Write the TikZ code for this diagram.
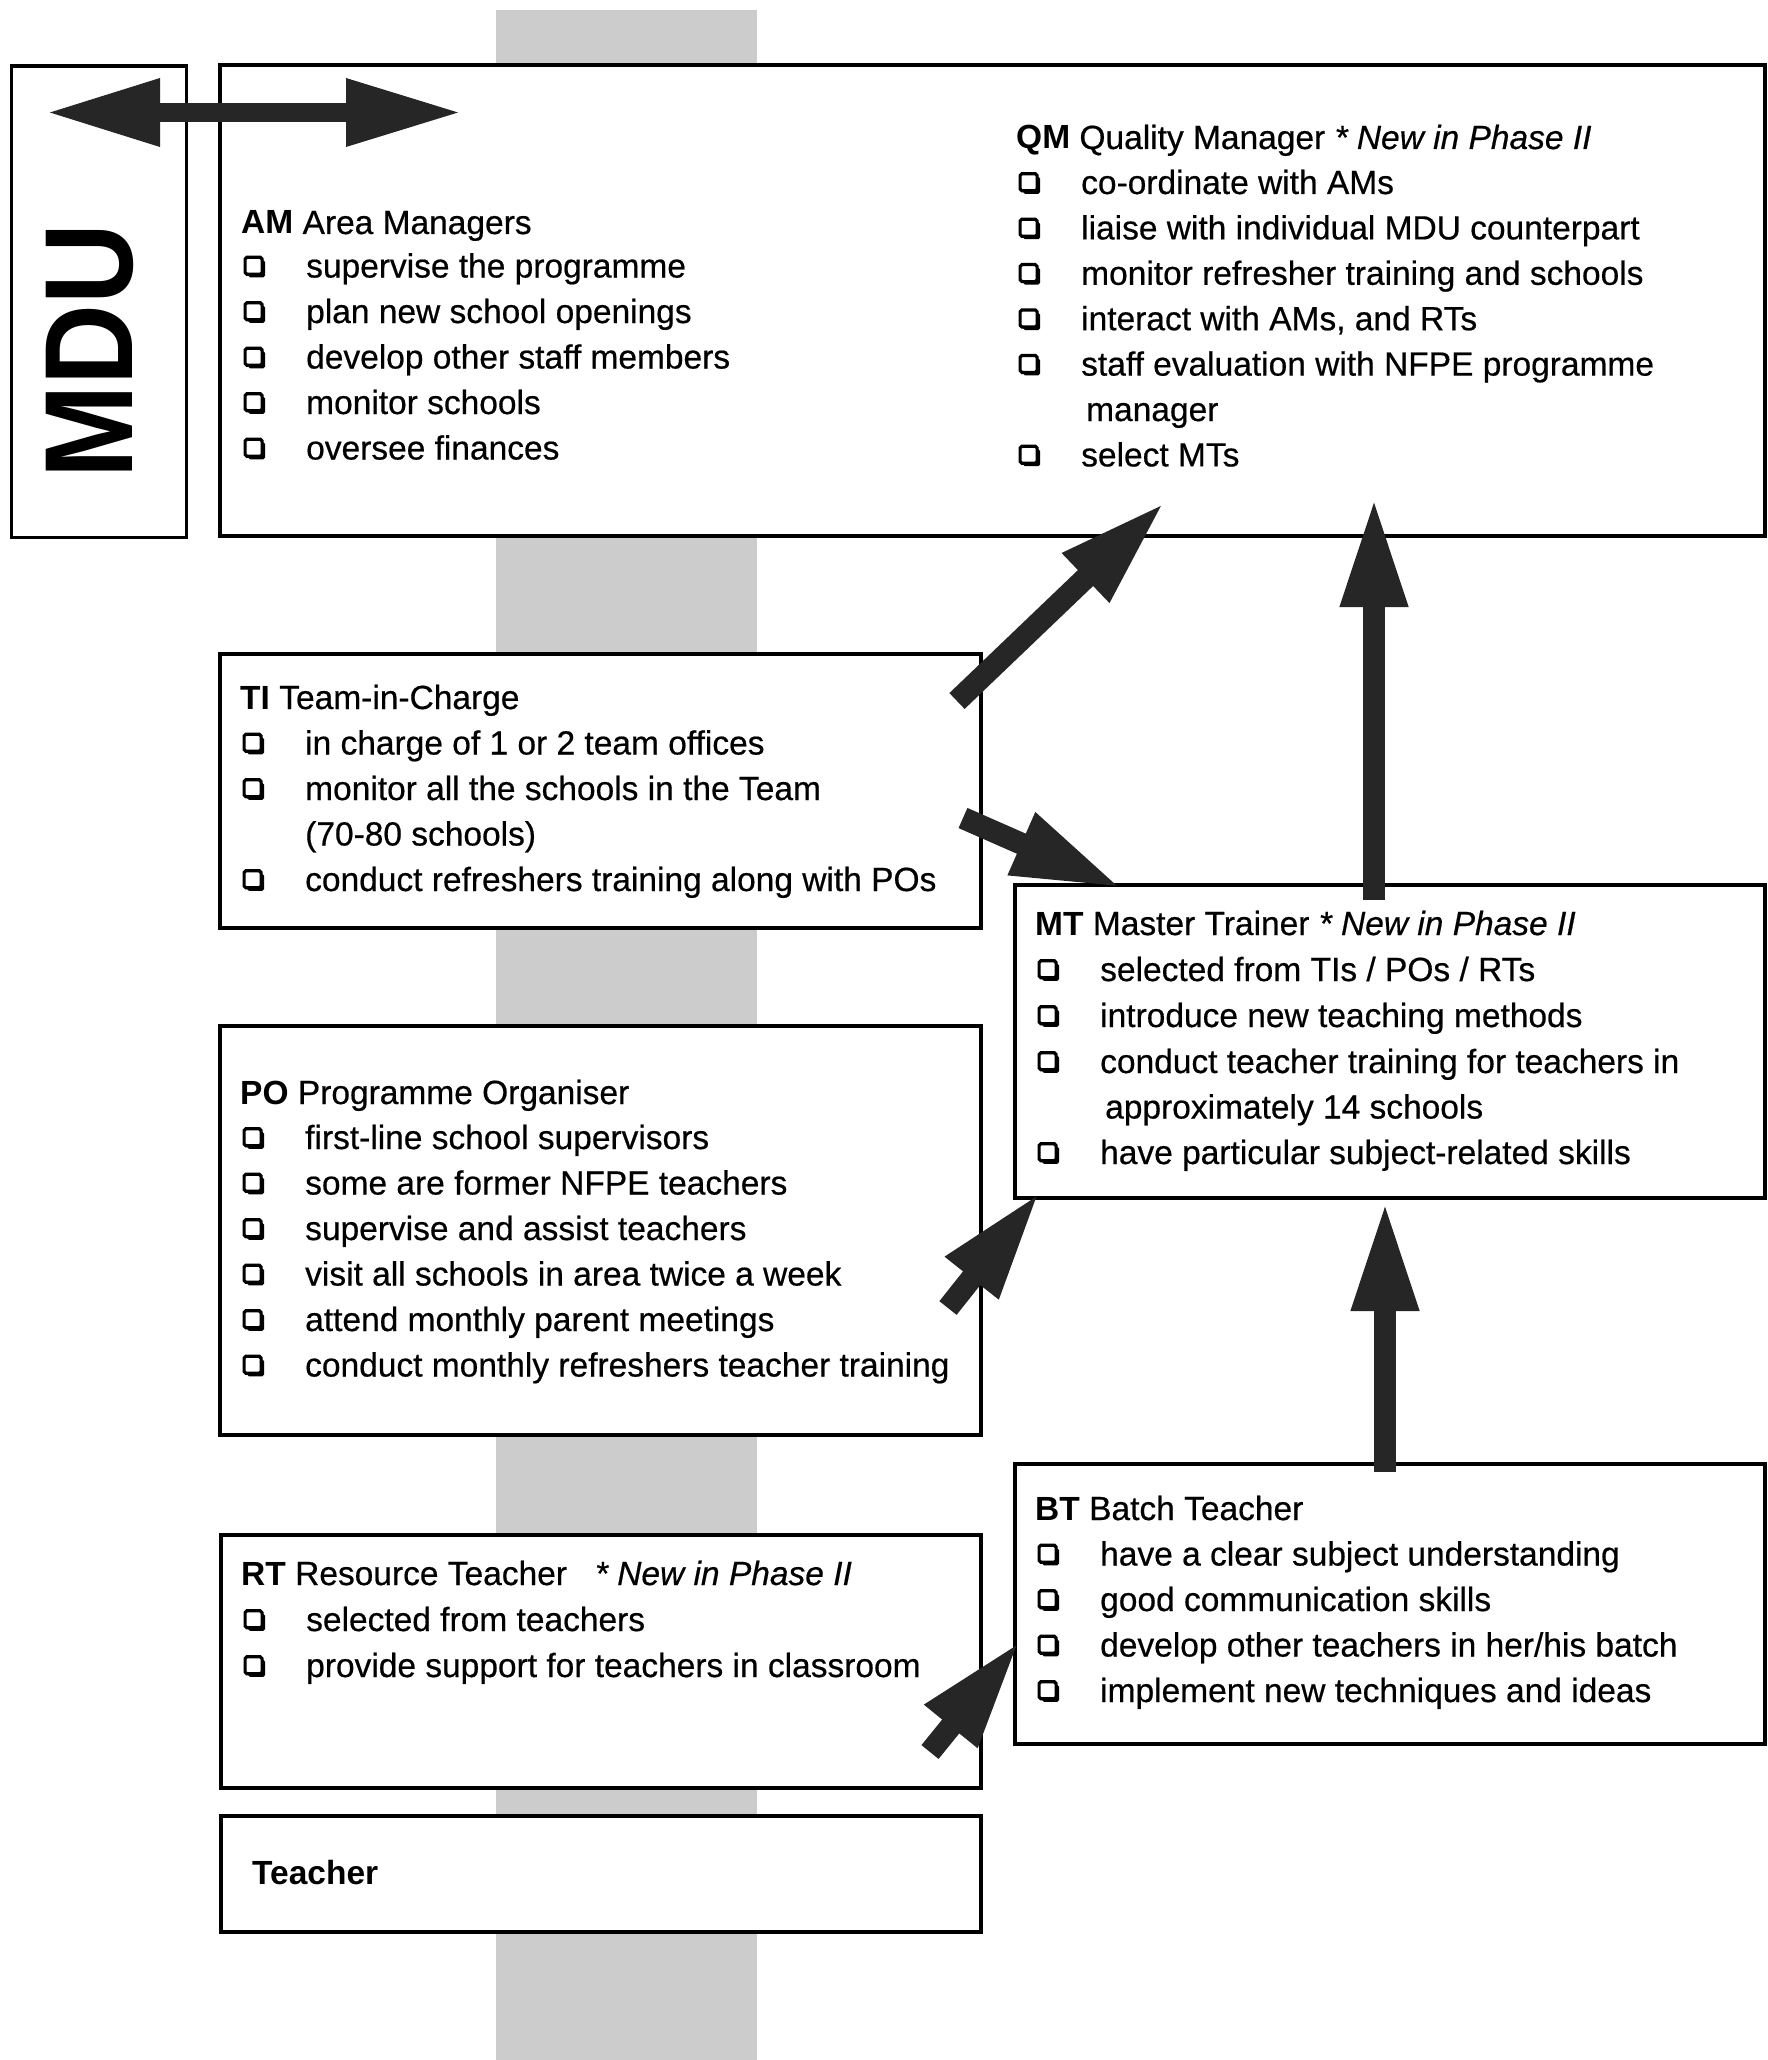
\documentclass[tikz,border=0pt]{standalone}
\usepackage{fontspec}
\usepackage{graphicx}
\setmainfont{Liberation Sans}[UprightFeatures={FakeBold=0.5},ItalicFeatures={FakeBold=0.5}]
\usetikzlibrary{arrows.meta,shadows}
\newcommand{\fs}{\fontsize{33.5}{40}\selectfont}
\newcommand{\mdufont}{\fontsize{112}{120}\selectfont\bfseries}
\newcommand{\itm}[4]{%
  \node[cbx] (#1b) at (#2+2.5,#3-1.6) {};
  \node[txt] (#1) at (#2+65,#3) {#4};}
\newcommand{\cnt}[4]{\node[txt] (#1) at (#2+70,#3) {#4};}
\begin{document}
\begin{tikzpicture}[x=1pt,y=-1pt,
  box/.style={draw=black, line width=3.5pt, fill=white, rectangle, inner sep=0pt},
  txt/.style={anchor=base west, inner sep=0pt, font=\fs},
  cbx/.style={draw=black, line width=3.2pt, fill=white, rectangle, rounded corners=1.8pt,
    minimum width=17pt, minimum height=17pt, inner sep=0pt, anchor=south west,
    drop shadow={shadow xshift=3pt, shadow yshift=-3pt, fill=black, opacity=1}},
  blk/.style={line width=22pt, draw=black!85, -{Triangle[length=110pt,width=62pt]}},
  band/.style={fill=black!20, draw=none}]
\useasboundingbox (0,0) rectangle (1767,2060);
% grey band behind
\path[band] (496,10) rectangle (757,2060);

% boxes
\node[box, minimum width=175pt, minimum height=471pt] (mdu) at (99,301.75) {};
\node[box, minimum width=1545pt, minimum height=471pt] (top) at (992.5,300.5) {};
\node[box, minimum width=761pt, minimum height=274pt] (ti) at (600.5,791) {};
\node[box, minimum width=750pt, minimum height=313pt] (mt) at (1390,1041.5) {};
\node[box, minimum width=761pt, minimum height=409pt] (po) at (600.5,1230.5) {};
\node[box, minimum width=750pt, minimum height=280pt] (bt) at (1390,1604) {};
\node[box, minimum width=760pt, minimum height=253pt] (rt) at (601,1661.5) {};
\node[box, minimum width=760pt, minimum height=116pt] (te) at (601,1874) {};

% MDU label
\node[rotate=90, inner sep=0pt, font=\mdufont] (mdut) at (89.5,351) {\scalebox{1}[1.12]{MDU}};

% AM
\node[txt] (amh) at (241,234) {\textbf{AM} Area Managers};
\itm{am1}{241}{277.5}{supervise the programme}
\itm{am2}{241}{323}{plan new school openings}
\itm{am3}{241}{368.5}{develop other staff members}
\itm{am4}{241}{414}{monitor schools}
\itm{am5}{241}{459.5}{oversee finances}

% QM
\node[txt] (qmh) at (1016,149) {\textbf{QM} Quality Manager \textit{* New in Phase II}};
\itm{qm1}{1016}{194}{co-ordinate with AMs}
\itm{qm2}{1016}{239.4}{liaise with individual MDU counterpart}
\itm{qm3}{1016}{284.8}{monitor refresher training and schools}
\itm{qm4}{1016}{330.2}{interact with AMs, and RTs}
\itm{qm5}{1016}{375.6}{staff evaluation with NFPE programme}
\cnt{qm5c}{1016}{421}{manager}
\itm{qm6}{1016}{466.4}{select MTs}

% TI
\node[txt] (tih) at (240,709) {\textbf{TI} Team-in-Charge};
\itm{ti1}{240}{754.5}{in charge of 1 or 2 team offices}
\itm{ti2}{240}{800}{monitor all the schools in the Team}
\cnt{ti2c}{235}{845.5}{(70-80 schools)}
\itm{ti3}{240}{891}{conduct refreshers training along with POs}

% MT
\node[txt] (mth) at (1035,935) {\textbf{MT} Master Trainer \textit{* New in Phase II}};
\itm{mt1}{1035}{981}{selected from TIs / POs / RTs}
\itm{mt2}{1035}{1027}{introduce new teaching methods}
\itm{mt3}{1035}{1073}{conduct teacher training for teachers in}
\cnt{mt3c}{1035}{1118.5}{approximately 14 schools}
\itm{mt4}{1035}{1164}{have particular subject-related skills}

% PO
\node[txt] (poh) at (240,1104) {\textbf{PO} Programme Organiser};
\itm{po1}{240}{1149}{first-line school supervisors}
\itm{po2}{240}{1194.5}{some are former NFPE teachers}
\itm{po3}{240}{1240}{supervise and assist teachers}
\itm{po4}{240}{1285.5}{visit all schools in area twice a week}
\itm{po5}{240}{1331}{attend monthly parent meetings}
\itm{po6}{240}{1376.5}{conduct monthly refreshers teacher training}

% BT
\node[txt] (bth) at (1035,1520) {\textbf{BT} Batch Teacher};
\itm{bt1}{1035}{1565.5}{have a clear subject understanding}
\itm{bt2}{1035}{1611}{good communication skills}
\itm{bt3}{1035}{1656.5}{develop other teachers in her/his batch}
\itm{bt4}{1035}{1702}{implement new techniques and ideas}

% RT
\node[txt] (rth) at (241,1585) {\textbf{RT} Resource Teacher \ \ \textit{* New in Phase II}};
\itm{rt1}{241}{1631}{selected from teachers}
\itm{rt2}{241}{1677}{provide support for teachers in classroom}

% Teacher
\node[txt] (teh) at (252,1884) {\textbf{Teacher}};

% arrow end points
\coordinate (dL) at (46,112.5);
\coordinate (dR) at (462,112.5);
\coordinate (aS) at (957,701);
\coordinate (aE) at (1165,502);
\coordinate (bS) at (963,818);
\coordinate (bE) at (1122,888);
\coordinate (cS) at (1374,900);
\coordinate (cE) at (1374,497);
\coordinate (dS) at (948,1308);
\coordinate (dE) at (1040,1192);
\coordinate (eS) at (930,1752);
\coordinate (eE) at (1020,1641);
\coordinate (fS) at (1385,1472);
\coordinate (fE) at (1385,1201);

\draw[line width=19pt, draw=black!85,
  {Triangle[length=114pt,width=63pt]}-{Triangle[length=116pt,width=63pt]}] (dL) -- (dR);
\draw[blk] (aS) -- (aE);
\draw[blk] (bS) -- (bE);
\draw[blk] (cS) -- (cE);
\draw[blk] (dS) -- (dE);
\draw[blk] (eS) -- (eE);
\draw[blk] (fS) -- (fE);
\end{tikzpicture}
\end{document}
